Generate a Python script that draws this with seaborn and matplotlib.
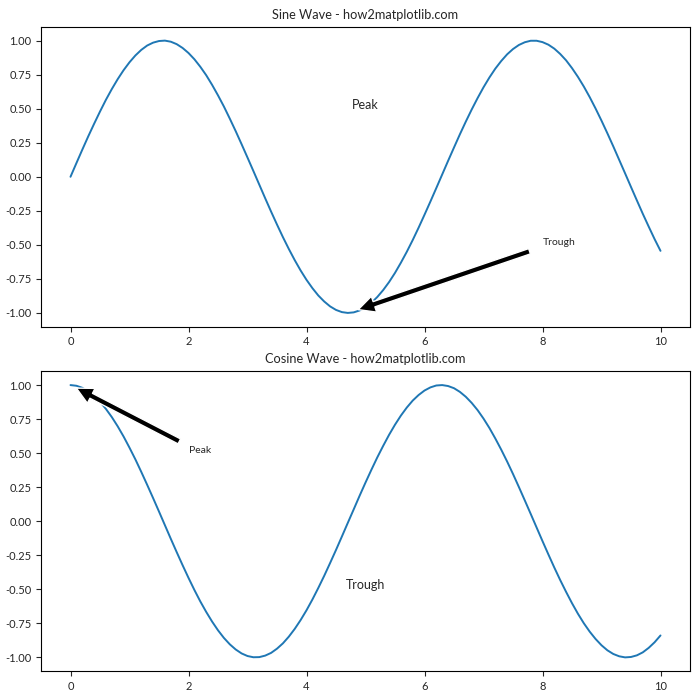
import matplotlib
matplotlib.use("Agg")
import matplotlib.pyplot as plt
import matplotlib.ticker as mticker
import seaborn as sns
import numpy as np

x_vals = [0.0, 0.1, 0.2, 0.3, 0.4, 0.5, 0.6, 0.7, 0.8, 0.9,
          1.0, 1.1, 1.2, 1.3, 1.4, 1.5, 1.6, 1.7, 1.8, 1.9,
          2.0, 2.1, 2.2, 2.3, 2.4, 2.5, 2.6, 2.7, 2.8, 2.9,
          3.0, 3.1, 3.2, 3.3, 3.4, 3.5, 3.6, 3.7, 3.8, 3.9,
          4.0, 4.1, 4.2, 4.3, 4.4, 4.5, 4.6, 4.7, 4.8, 4.9,
          5.0, 5.1, 5.2, 5.3, 5.4, 5.5, 5.6, 5.7, 5.8, 5.9,
          6.0, 6.1, 6.2, 6.3, 6.4, 6.5, 6.6, 6.7, 6.8, 6.9,
          7.0, 7.1, 7.2, 7.3, 7.4, 7.5, 7.6, 7.7, 7.8, 7.9,
          8.0, 8.1, 8.2, 8.3, 8.4, 8.5, 8.6, 8.7, 8.8, 8.9,
          9.0, 9.1, 9.2, 9.3, 9.4, 9.5, 9.6, 9.7, 9.8, 9.9,
          10.0]
sine_vals = [0.000, 0.100, 0.199, 0.296, 0.389, 0.479, 0.565, 0.644, 0.717, 0.783,
             0.841, 0.891, 0.932, 0.964, 0.985, 0.997, 1.000, 0.992, 0.974, 0.946,
             0.909, 0.863, 0.808, 0.746, 0.675, 0.598, 0.516, 0.427, 0.335, 0.239,
             0.141, 0.042, -0.058, -0.158, -0.256, -0.351, -0.443, -0.530, -0.612, -0.688,
             -0.757, -0.818, -0.872, -0.916, -0.952, -0.978, -0.994, -1.000, -0.996, -0.982,
             -0.959, -0.926, -0.883, -0.832, -0.773, -0.706, -0.631, -0.551, -0.465, -0.374,
             -0.279, -0.182, -0.083, 0.017, 0.117, 0.215, 0.312, 0.405, 0.494, 0.578,
             0.657, 0.729, 0.794, 0.850, 0.899, 0.938, 0.968, 0.988, 0.999, 0.999,
             0.989, 0.970, 0.941, 0.902, 0.855, 0.798, 0.734, 0.663, 0.585, 0.501,
             0.412, 0.319, 0.223, 0.124, 0.025, -0.075, -0.174, -0.272, -0.366, -0.458,
             -0.544]
cosine_vals = [1.000, 0.995, 0.980, 0.955, 0.921, 0.878, 0.825, 0.765, 0.697, 0.622,
               0.540, 0.454, 0.362, 0.267, 0.170, 0.071, -0.029, -0.129, -0.227, -0.323,
               -0.416, -0.505, -0.589, -0.666, -0.737, -0.801, -0.857, -0.904, -0.942, -0.971,
               -0.990, -0.999, -0.998, -0.987, -0.967, -0.936, -0.897, -0.848, -0.791, -0.726,
               -0.654, -0.575, -0.490, -0.401, -0.307, -0.211, -0.112, -0.012, 0.087, 0.187,
               0.284, 0.378, 0.469, 0.554, 0.635, 0.709, 0.776, 0.835, 0.886, 0.927,
               0.960, 0.983, 0.997, 1.000, 0.993, 0.977, 0.950, 0.914, 0.869, 0.816,
               0.754, 0.685, 0.608, 0.526, 0.439, 0.347, 0.251, 0.153, 0.054, -0.046,
               -0.146, -0.244, -0.340, -0.432, -0.519, -0.602, -0.679, -0.749, -0.811, -0.865,
               -0.911, -0.948, -0.975, -0.992, -1.000, -0.997, -0.985, -0.963, -0.930, -0.889,
               -0.839]
titles = ["Sine Wave - how2matplotlib.com", "Cosine Wave - how2matplotlib.com"]
x_ticks = [0, 2, 4, 6, 8, 10]
y_ticks = [-1.0, -0.75, -0.5, -0.25, 0.0, 0.25, 0.5, 0.75, 1.0]

sns.set_style("ticks")
plt.rcParams["font.family"] = ["Lato", "DejaVu Sans"]
plt.rcParams["xtick.labelsize"] = 8
plt.rcParams["ytick.labelsize"] = 8

fig, (ax1, ax2) = plt.subplots(2, 1, figsize=(7, 7), dpi=100)
fig.subplots_adjust(left=41 / 700, right=690 / 700, top=1 - 27 / 700,
                    bottom=1 - 671 / 700, hspace=0.15)

sns.lineplot(x=x_vals, y=sine_vals, ax=ax1, color="#1f77b4", linewidth=1.4)
ax1.set_title(titles[0], fontsize=9.2)
ax1.annotate("Trough", xy=(3 * np.pi / 2, -1), xytext=(8, -0.5), fontsize=7.5,
             arrowprops=dict(facecolor="black", shrink=0.05))
ax1.text(5, 0.5, "Peak", ha="center", fontsize=9)

sns.lineplot(x=x_vals, y=cosine_vals, ax=ax2, color="#1f77b4", linewidth=1.4)
ax2.set_title(titles[1], fontsize=9.2)
ax2.annotate("Peak", xy=(0, 1), xytext=(2, 0.5), fontsize=7.5,
             arrowprops=dict(facecolor="black", shrink=0.05))
ax2.text(5, -0.5, "Trough", ha="center", fontsize=9)

for ax in (ax1, ax2):
    ax.set_xticks(x_ticks)
    ax.set_yticks(y_ticks)
    ax.yaxis.set_major_formatter(mticker.FormatStrFormatter("%.2f"))
    for s in ax.spines.values():
        s.set_visible(True)
        s.set_color("black")
        s.set_linewidth(0.8)

fig.savefig("out.png", dpi=100)
